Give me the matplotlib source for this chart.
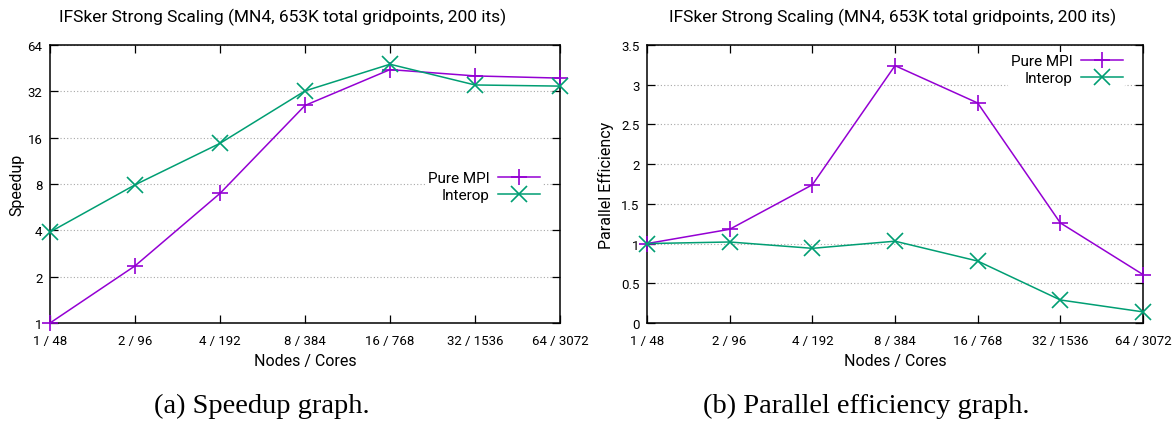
import matplotlib
matplotlib.use("Agg")
import matplotlib.pyplot as plt
from matplotlib.ticker import FixedLocator, FixedFormatter

plt.rcParams['font.family'] = ['Roboto', 'DejaVu Sans']

categories = ["1 / 48", "2 / 96", "4 / 192", "8 / 384", "16 / 768", "32 / 1536", "64 / 3072"]
speedup_mpi = [1.0, 2.35, 6.95, 25.9, 44.3, 40.3, 39.0]
speedup_interop = [3.9, 7.9, 14.7, 32.2, 48.0, 35.2, 34.6]
eff_mpi = [1.0, 1.18, 1.74, 3.24, 2.77, 1.26, 0.61]
eff_interop = [1.0, 1.02, 0.94, 1.03, 0.78, 0.29, 0.14]
title = "IFSker Strong Scaling (MN4, 653K total gridpoints, 200 its)"
speedup_ticks = [1, 2, 4, 8, 16, 32, 64]
eff_ticks = [0, 0.5, 1, 1.5, 2, 2.5, 3, 3.5]

C_MPI = '#9400D3'
C_INT = '#009E73'

W, H = 1174, 427
fig = plt.figure(figsize=(W / 100, H / 100), dpi=100)

def axrect(x0, x1, y0, y1):
    return [x0 / W, 1 - y1 / H, (x1 - x0) / W, (y1 - y0) / H]

ax1 = fig.add_axes(axrect(50, 560, 46, 324))
ax2 = fig.add_axes(axrect(647, 1143, 46, 324))

x = list(range(len(categories)))

def style(ax):
    ax.set_xlim(0, len(categories) - 1)
    ax.set_xticks(x)
    ax.set_xticklabels(categories)
    ax.tick_params(axis='both', direction='in', length=6, width=0.9,
                   top=True, right=True, labelsize=9.5, color='black')
    ax.tick_params(axis='x', pad=8)
    ax.tick_params(axis='y', pad=5.5)
    ax.grid(axis='y', color='#a8a8a8', linestyle=(0, (1, 2)), linewidth=0.8)
    ax.set_axisbelow(True)
    for s in ax.spines.values():
        s.set_linewidth(1.1)
    ax.set_xlabel("Nodes / Cores", fontsize=11.5, labelpad=4.5)

def plot_series(ax, y1, y2):
    ax.plot(x, y1, color=C_MPI, marker='+', markersize=11, mew=1.2, lw=1.1,
            label='Pure MPI', clip_on=False, zorder=3)
    ax.plot(x, y2, color=C_INT, marker='x', markersize=11, mew=1.2, lw=1.1,
            label='Interop', clip_on=False, zorder=3)

# Left: speedup
plot_series(ax1, speedup_mpi, speedup_interop)
ax1.set_yscale('log', base=2)
ax1.set_ylim(1, 64)
ax1.yaxis.set_major_locator(FixedLocator(speedup_ticks))
ax1.yaxis.set_major_formatter(FixedFormatter([str(t) for t in speedup_ticks]))
ax1.yaxis.set_minor_locator(FixedLocator([]))
style(ax1)
ax1.set_ylabel("Speedup", fontsize=11.5, labelpad=2)
leg1 = ax1.legend(loc='center right', bbox_to_anchor=(1 - 18 / 510, 0.49),
                  markerfirst=False, frameon=True, fontsize=11, borderpad=0.15,
                  borderaxespad=0, handlelength=2.7, handletextpad=0.6,
                  labelspacing=0.2)
leg1.get_frame().set_facecolor('white')
leg1.get_frame().set_edgecolor('none')
leg1.get_frame().set_alpha(1)

# Right: efficiency
plot_series(ax2, eff_mpi, eff_interop)
ax2.set_ylim(0, 3.5)
ax2.yaxis.set_major_locator(FixedLocator(eff_ticks))
ax2.yaxis.set_major_formatter(FixedFormatter(['%g' % t for t in eff_ticks]))
style(ax2)
ax2.set_ylabel("Parallel Efficiency", fontsize=11.5, labelpad=5)
leg2 = ax2.legend(loc='upper right', bbox_to_anchor=(1 - 18 / 496, 1 - 7 / 278),
                  markerfirst=False, frameon=True, fontsize=11, borderpad=0.15,
                  borderaxespad=0, handlelength=2.7, handletextpad=0.6,
                  labelspacing=0.2)
leg2.get_frame().set_facecolor('white')
leg2.get_frame().set_edgecolor('none')
leg2.get_frame().set_alpha(1)

# Titles
fig.text(283 / W, 1 - 17 / H, title, ha='center', va='center', fontsize=12.5)
fig.text(893 / W, 1 - 17 / H, title, ha='center', va='center', fontsize=12.5)

# Captions
fig.text(262 / W, 1 - 406 / H, "(a) Speedup graph.", ha='center', va='center',
         fontsize=20.5, family=['Liberation Serif', 'DejaVu Serif'])
fig.text(866 / W, 1 - 406 / H, "(b) Parallel efficiency graph.", ha='center', va='center',
         fontsize=20.5, family=['Liberation Serif', 'DejaVu Serif'])

fig.savefig("out.png", dpi=100)
